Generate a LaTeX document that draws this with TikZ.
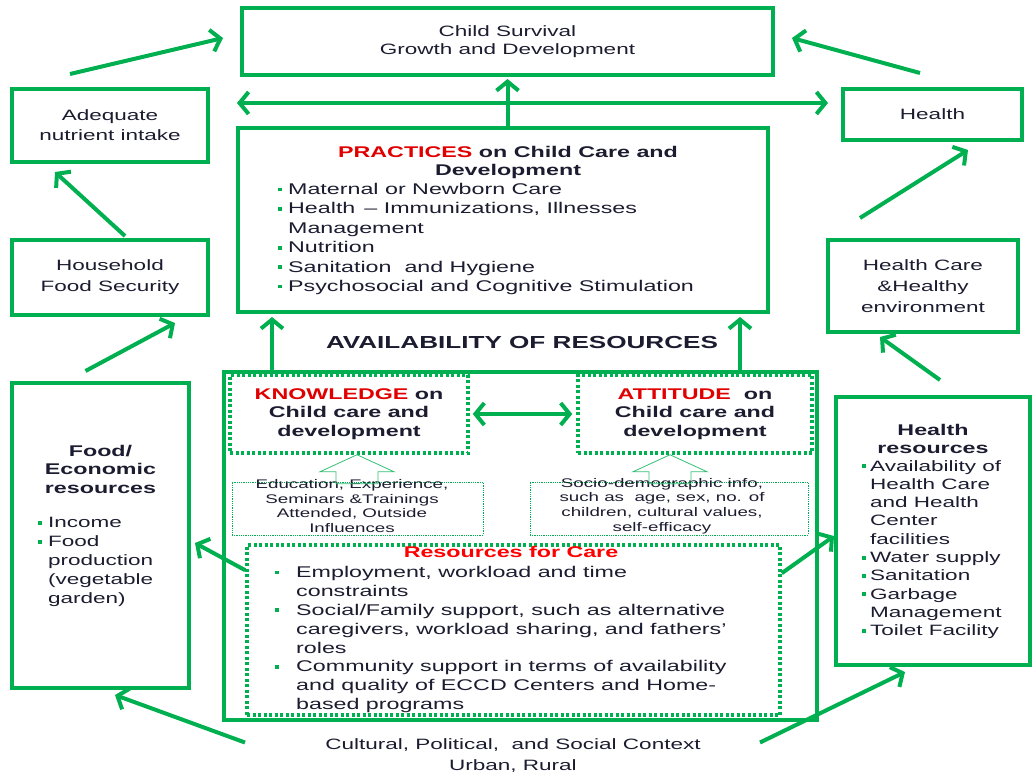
\documentclass[tikz,border=0pt]{standalone}
\usepackage{fontspec}
\setmainfont[FakeStretch=1.5]{Liberation Sans}
\usepackage{tikz}
\usetikzlibrary{arrows.meta,calc}
\definecolor{grn}{HTML}{00B050}
\definecolor{rd}{HTML}{E00000}
\definecolor{brd}{HTML}{FF0000}
\definecolor{txt}{HTML}{1C1C30}
\tikzstyle{box} = [draw=grn, line width=4pt, inner sep=0pt, align=center]
\tikzstyle{dotbox} = [draw=grn, line width=3.5pt, dash pattern=on 3pt off 2.5pt, inner sep=0pt, align=center]
\tikzstyle{thinbox} = [draw=grn, line width=0.8pt, densely dotted, inner sep=0pt]
\tikzstyle{line} = [draw=grn, line width=4pt, -{Straight Barb[length=9pt,width=22pt]}]
\tikzstyle{dline} = [line, {Straight Barb[length=9pt,width=22pt]}-{Straight Barb[length=9pt,width=22pt]}]
\tikzstyle{hollow} = [draw=grn!80, line width=0.8pt]
\newcommand{\sqb}[1][10pt]{\makebox[#1][l]{\textcolor{grn}{\rule[3pt]{3.8pt}{3.8pt}}}}
\newcommand{\fs}[2]{\fontsize{#1}{#2}\selectfont}

\begin{document}
\begin{tikzpicture}[x=1pt,y=-1pt]
	\tikzstyle{every node}=[font=\fs{15}{19}, text=txt]
	\useasboundingbox (0,0) rectangle (1036,778);

	% ------------------- Top row ------------------- %
	\node[box, minimum width=531pt, minimum height=67pt, font=\fs{15}{18}] (surv) at (507.5,41.5) {Child Survival\\Growth and Development};
	\node[box, minimum width=196pt, minimum height=73pt, font=\fs{15}{20}] (adeq) at (110,125.5) {Adequate\\nutrient intake};
	\node[box, minimum width=179pt, minimum height=51pt] (health) at (932.5,114.5) {Health};

	% ------------------- Practices ------------------- %
	\node[box, minimum width=530pt, minimum height=184pt] (prac) at (503,220) {};
	\node[align=center, font=\fs{15.5}{18}\bfseries] (practitle) at (508,162) {\textcolor{rd}{PRACTICES} on Child Care and\\Development};
	\node[align=left, anchor=north west, inner sep=0pt, font=\fs{15.5}{19.4}] (praclist) at (278,183) {\sqb Maternal or Newborn Care\\
		\sqb Health \,-- Immunizations, Illnesses\\
		\hspace*{10pt}Management\\
		\sqb Nutrition\\
		\sqb Sanitation \ and Hygiene\\
		\sqb Psychosocial and Cognitive Stimulation};

	% ------------------- Side boxes ------------------- %
	\node[box, minimum width=196pt, minimum height=75pt, font=\fs{15}{21}] (house) at (110,277.5) {Household\\Food Security};
	\node[box, minimum width=190pt, minimum height=92pt, font=\fs{15}{21}] (hcare) at (923,286) {Health Care\\\&Healthy\\environment};

	\node[font=\fs{17.4}{20}\bfseries] (avail) at (522,343) {AVAILABILITY OF RESOURCES};

	% ------------------- Availability of resources ------------------- %
	\node[box, minimum width=593pt, minimum height=348pt] (outer) at (520.5,546) {};
	\node[dotbox, minimum width=238pt, minimum height=78pt, font=\fs{15.5}{18.5}\bfseries] (know) at (349,414) {\textcolor{rd}{KNOWLEDGE} on\\Child care and\\development};
	\node[dotbox, minimum width=234pt, minimum height=78pt, font=\fs{15.5}{18.5}\bfseries] (att) at (695,414) {\textcolor{rd}{ATTITUDE} \ on\\Child care and\\development};

	\node[thinbox, minimum width=251pt, minimum height=53pt] (edu) at (357.5,508.5) {};
	\node[align=center, font=\fs{12.5}{14.8}] (edutxt) at (352,506) {Education, Experience,\\Seminars \&Trainings\\Attended, Outside\\Influences};
	\node[thinbox, minimum width=278pt, minimum height=53pt] (socio) at (669,508.5) {};
	\node[align=center, font=\fs{12.5}{14.8}] (sociotxt) at (662,506) {Socio-demographic info,\\such as \ age, sex, no. of\\children, cultural values,\\self-efficacy};

	% hollow arrows
	\draw[hollow] ([xshift=8pt]know.south) -- ++(37,17) -- ++(-16,0) -- ++(0,12) -- ++(-42,0) -- ++(0,-12) -- ++(-16,0) -- cycle;
	\draw[hollow] ([xshift=-25pt]att.south) -- ++(37,17) -- ++(-16,0) -- ++(0,12) -- ++(-42,0) -- ++(0,-12) -- ++(-16,0) -- cycle;

	\node[dotbox, minimum width=533pt, minimum height=170pt] (res) at (513.5,630) {};
	\node[font=\fs{15.5}{18}\bfseries, text=brd] (restitle) at (511,552) {Resources for Care};
	\node[align=left, anchor=north west, inner sep=0pt, font=\fs{15.5}{18.9}] (reslist) at (275,566) {\sqb[21pt]Employment, workload and time\\
		\hspace*{21pt}constraints\\
		\sqb[21pt]Social/Family support, such as alternative\\
		\hspace*{21pt}caregivers, workload sharing, and fathers’\\
		\hspace*{21pt}roles\\
		\sqb[21pt]Community support in terms of availability\\
		\hspace*{21pt}and quality of ECCD Centers and Home-\\
		\hspace*{21pt}based programs};

	% ------------------- Resource boxes ------------------- %
	\node[box, minimum width=177pt, minimum height=305pt] (food) at (100.5,535.5) {};
	\node[align=center, font=\fs{15.5}{18.5}\bfseries] (foodtitle) at (100.5,469) {Food/\\Economic\\resources};
	\node[align=left, anchor=north west, inner sep=0pt] (foodlist) at (38,517) {\sqb Income\\
		\sqb Food\\
		\hspace*{10pt}production\\
		\hspace*{10pt}(vegetable\\
		\hspace*{10pt}garden)};

	\node[box, minimum width=194pt, minimum height=268pt] (hres) at (933,531) {};
	\node[align=center, font=\fs{15.5}{18}\bfseries] (hrestitle) at (933,439) {Health\\resources};
	\node[align=left, anchor=north west, inner sep=0pt, font=\fs{15}{18.3}] (hreslist) at (862,460) {\sqb[8pt]Availability of\\
		\hspace*{8pt}Health Care\\
		\hspace*{8pt}and Health\\
		\hspace*{8pt}Center\\
		\hspace*{8pt}facilities\\
		\sqb[8pt]Water supply\\
		\sqb[8pt]Sanitation\\
		\sqb[8pt]Garbage\\
		\hspace*{8pt}Management\\
		\sqb[8pt]Toilet Facility};

	\node[align=center, font=\fs{15}{21}] (ctx) at (513,755.5) {Cultural, Political, \ and Social Context\\Urban, Rural};

	% ------------------- Arrows ------------------- %
	\draw[line] ([xshift=-40pt,yshift=13pt]adeq.north) -- ([xshift=-17pt,yshift=3.5pt]surv.west);
	\draw[line] ([xshift=-12.5pt,yshift=14pt]health.north) -- ([xshift=17pt,yshift=3.5pt]surv.east);
	\draw[line] (surv.south |- prac.north) -- ([yshift=-2pt]surv.south);
	\draw[dline] ([xshift=27pt,yshift=22.5pt]adeq.east) -- ([xshift=-13pt,yshift=11.5pt]health.west);
	\draw[line] ([xshift=15pt,yshift=2pt]house.north) -- ([xshift=-55pt,yshift=-8pt]adeq.south);
	\draw[line] ([xshift=-15pt,yshift=10pt]food.north) -- ([xshift=65pt,yshift=-6pt]house.south);
	\draw[line] ([xshift=-63pt,yshift=20pt]hcare.north) -- ([xshift=35.5pt,yshift=-8pt]health.south);
	\draw[line] ([xshift=7pt,yshift=15pt]hres.north) -- ([xshift=-43pt,yshift=-3pt]hcare.south);
	\draw[line] ([xshift=-248.5pt]outer.north) -- ([xshift=-248.5pt,yshift=-3pt]outer.north |- prac.south);
	\draw[line] ([xshift=219.5pt]outer.north) -- ([xshift=219.5pt,yshift=-3pt]outer.north |- prac.south);
	\draw[dline] ([xshift=3pt]know.east) -- ([xshift=-4pt]att.west);
	\draw[line] ([yshift=-27pt]res.north west) -- ([xshift=4pt,yshift=-7.5pt]food.east);
	\draw[line] ([yshift=-30pt]res.north east) -- ([yshift=-5pt]hres.west);
	\draw[line] ([xshift=-268pt,yshift=13pt]ctx.center) -- ([xshift=14.5pt,yshift=-5pt]food.south);
	\draw[line] ([xshift=247pt,yshift=13pt]ctx.center) -- ([xshift=-28pt,yshift=-5pt]hres.south);
\end{tikzpicture}
\end{document}
